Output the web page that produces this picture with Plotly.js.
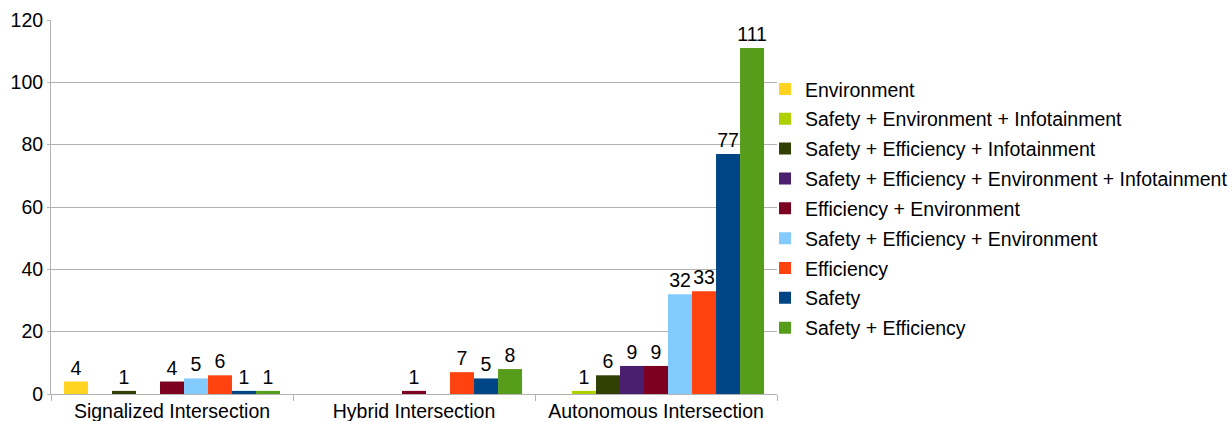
<!DOCTYPE html>
<html>
<head>
<meta charset="utf-8">
<script src="https://cdn.plot.ly/plotly-3.0.1.min.js"></script>
<style>html,body{margin:0;padding:0;background:#fff;}#chart{width:1232px;height:421px;}</style>
</head>
<body>
<div id="chart"></div>
<script>
const categories = ["Signalized Intersection", "Hybrid Intersection", "Autonomous Intersection"];
const seriesNames = [
  "Environment",
  "Safety + Environment + Infotainment",
  "Safety + Efficiency + Infotainment",
  "Safety + Efficiency + Environment + Infotainment",
  "Efficiency + Environment",
  "Safety + Efficiency + Environment",
  "Efficiency",
  "Safety",
  "Safety + Efficiency"
];
const environment = [4, null, null];
const safetyEnvInfo = [null, null, 1];
const safetyEffInfo = [1, null, 6];
const safetyEffEnvInfo = [null, null, 9];
const effEnv = [4, 1, 9];
const safetyEffEnv = [5, null, 32];
const efficiency = [6, 7, 33];
const safety = [1, 5, 77];
const safetyEff = [1, 8, 111];
const seriesValues = [environment, safetyEnvInfo, safetyEffInfo, safetyEffEnvInfo, effEnv, safetyEffEnv, efficiency, safety, safetyEff];
const colors = ["#ffd320", "#aecf00", "#314004", "#4b1f6f", "#7e0021", "#83caff", "#ff420e", "#004586", "#579d1c"];
const yTicks = [0, 20, 40, 60, 80, 100, 120];

const font = "Liberation Sans, Arial, sans-serif";
const FS = 19.5;
const traces = seriesNames.map((name, i) => ({
  type: "bar",
  name: name,
  x: categories,
  y: seriesValues[i],
  marker: {color: colors[i], line: {width: 0}},
  text: seriesValues[i].map(v => v === null ? "" : String(v)),
  textposition: "outside",
  constraintext: "none",
  cliponaxis: false,
  textfont: {family: font, size: FS, color: "#000"},
  legendgroup: "g" + i,
  hoverinfo: "x+y+name"
}));

const layout = {
  width: 1232, height: 421,
  margin: {l: 51, r: 455, t: 20, b: 27, autoexpand: false},
  paper_bgcolor: "#fff", plot_bgcolor: "#fff",
  font: {family: font, size: FS, color: "#000"},
  barmode: "group",
  bargap: 0.107,
  bargroupgap: 0,
  showlegend: true,
  legend: {
    x: 0.9835, xanchor: "left", y: 0.867, yanchor: "top",
    bgcolor: "rgba(0,0,0,0)",
    font: {family: font, size: FS, color: "#000"},
    traceorder: "grouped",
    tracegroupgap: 1.5,
    itemclick: false
  },
  xaxis: {
    type: "category",
    showgrid: false,
    showline: true, linecolor: "#b3b3b3", linewidth: 1,
    ticks: "outside", tickson: "boundaries", ticklen: 6, tickcolor: "#b3b3b3",
    tickfont: {family: font, size: FS, color: "#000"},
    zeroline: false
  },
  yaxis: {
    range: [0, 120],
    tickvals: yTicks,
    ticktext: yTicks.map(String),
    showgrid: true, gridcolor: "#b3b3b3", gridwidth: 1,
    showline: true, linecolor: "#b3b3b3", linewidth: 1,
    ticks: "outside", ticklen: 3, tickcolor: "#b3b3b3",
    tickfont: {family: font, size: FS, color: "#000"},
    zeroline: false
  }
};
Plotly.newPlot("chart", traces, layout, {staticPlot: true, displayModeBar: false});
</script>
</body>
</html>
